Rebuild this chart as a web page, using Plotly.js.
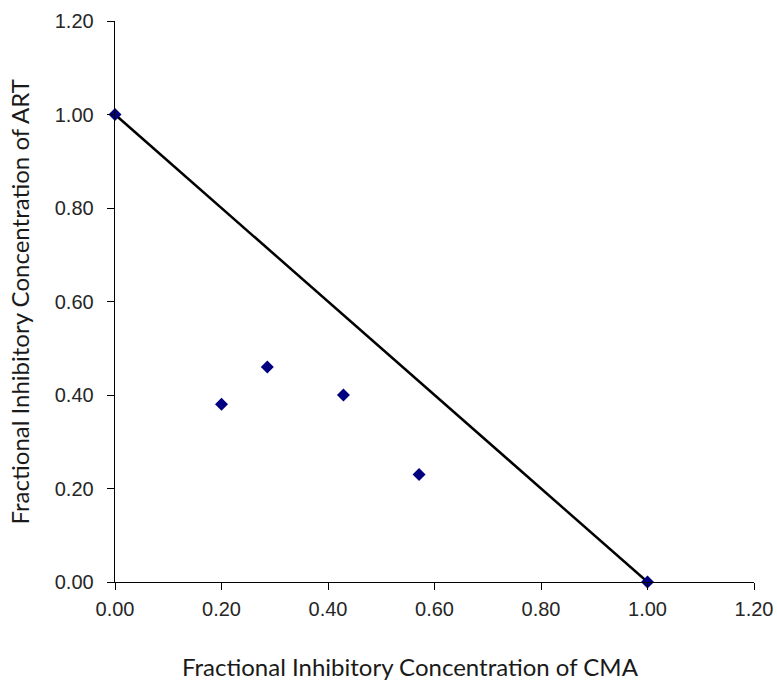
<!DOCTYPE html>
<html>
<head>
<meta charset="utf-8">
<script src="https://cdn.plot.ly/plotly-3.0.1.min.js"></script>
<style>html,body{margin:0;padding:0;background:#fff;}#chart{width:777px;height:681px;}</style>
</head>
<body>
<div id="chart"></div>
<script>
// Data
const ficCMA = [0.00, 0.20, 0.286, 0.429, 0.571, 1.00];
const ficART = [1.00, 0.38, 0.46, 0.40, 0.23, 0.00];
const lineX = [0.00, 1.00];
const lineY = [1.00, 0.00];
const tickVals = [0, 0.2, 0.4, 0.6, 0.8, 1.0, 1.2];
const tickText = ["0.00", "0.20", "0.40", "0.60", "0.80", "1.00", "1.20"];
const xTitle = 'Fractional Inhibitory Concentration of CMA';
const yTitle = 'Fractional Inhibitory Concentration of ART';

const traces = [
  {
    x: lineX, y: lineY, mode: 'lines', type: 'scatter',
    line: {color: '#000000', width: 2.5}, hoverinfo: 'skip', showlegend: false
  },
  {
    x: ficCMA, y: ficART, mode: 'markers', type: 'scatter',
    marker: {symbol: 'diamond', size: 10, color: '#000080', line: {width: 0}},
    showlegend: false, cliponaxis: false
  }
];

const tickFont = {family: 'Arial', size: 20, color: '#262626'};
const titleFont = {family: 'Lato', size: 24, color: '#1a1a1a'};

const layout = {
  width: 777, height: 681,
  margin: {l: 115, r: 23, t: 21, b: 99},
  paper_bgcolor: '#ffffff', plot_bgcolor: '#ffffff',
  showlegend: false,
  xaxis: {
    range: [0, 1.2], tickvals: tickVals, ticktext: tickText,
    ticks: 'outside', ticklen: 7, tickwidth: 1, tickcolor: '#000',
    showline: true, linecolor: '#000', linewidth: 1.3,
    showgrid: false, zeroline: false, tickfont: tickFont,
    ticklabelstandoff: 2
  },
  yaxis: {
    range: [0, 1.2], tickvals: tickVals, ticktext: tickText,
    ticks: 'outside', ticklen: 7, tickwidth: 1, tickcolor: '#000',
    showline: true, linecolor: '#000', linewidth: 1.3,
    showgrid: false, zeroline: false, tickfont: tickFont,
    ticklabelstandoff: 9
  },
  annotations: [
    {
      text: xTitle, xref: 'paper', yref: 'paper',
      x: 0.4617, y: -0.1515, xanchor: 'center', yanchor: 'middle',
      showarrow: false, font: titleFont
    },
    {
      text: yTitle, xref: 'paper', yref: 'paper', textangle: -90,
      x: -0.1487, y: 0.5, xanchor: 'center', yanchor: 'middle',
      showarrow: false, font: titleFont
    }
  ]
};

Plotly.newPlot('chart', traces, layout, {displayModeBar: false, staticPlot: true});
</script>
</body>
</html>
